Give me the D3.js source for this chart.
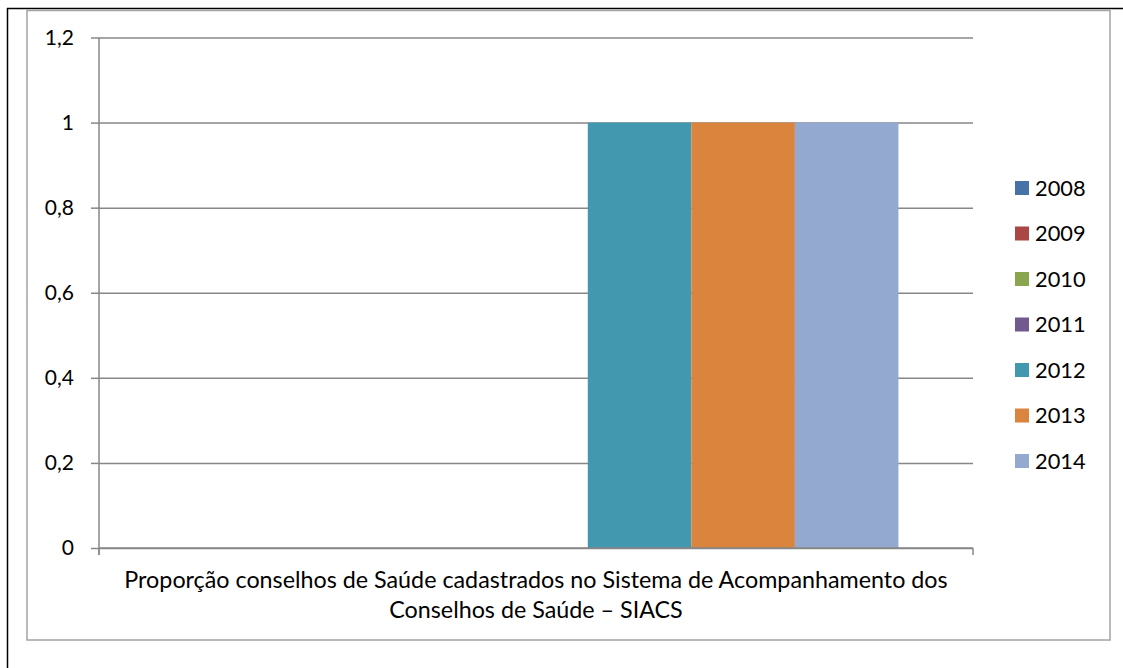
<!DOCTYPE html>
<html>
<head>
<meta charset="utf-8">
<script src="https://cdn.jsdelivr.net/npm/d3@7"></script>
<style>
  body { margin: 0; background: #fff; }
  svg { display: block; }
</style>
</head>
<body>
<div id="chart"></div>
<script>
// chart values
const categories = ['Proporção conselhos de Saúde cadastrados no Sistema de Acompanhamento dos|Conselhos de Saúde – SIACS']
const years = ['2008', '2009', '2010', '2011', '2012', '2013', '2014']
const values = [0, 0, 0, 0, 1, 1, 1]
const colors = ['#4572A7', '#AA4643', '#89A54E', '#71588F', '#4198AF', '#DB843D', '#93A9CF']
const yTicks = [0, 0.2, 0.4, 0.6, 0.8, 1, 1.2]

const width = 1123
const height = 668
const font = 'Lato, Calibri, "Open Sans", sans-serif'

const plot = {left: 99, right: 973, top: 37.5, bottom: 548}

const svg = d3.select('#chart').append('svg')
  .attr('width', width)
  .attr('height', height)

// outer page lines
svg.append('line')
  .attr('x1', 7).attr('y1', 8.5).attr('x2', width).attr('y2', 8.5)
  .attr('stroke', '#000').attr('stroke-width', 1.5)
svg.append('line')
  .attr('x1', 7.5).attr('y1', 8).attr('x2', 7.5).attr('y2', height)
  .attr('stroke', '#000').attr('stroke-width', 1.5)

// chart border
svg.append('rect')
  .attr('x', 27).attr('y', 10.5)
  .attr('width', 1110 - 27).attr('height', 640 - 10.5)
  .attr('fill', 'none')
  .attr('stroke', '#a3a3a3')
  .attr('stroke-width', 1.5)

const y = d3.scaleLinear()
  .domain([0, 1.2])
  .range([plot.bottom, plot.top])

const x0 = d3.scaleBand()
  .domain(categories)
  .range([plot.left, plot.right])

const x1 = d3.scaleBand()
  .domain(years)
  .range([0, x0.bandwidth()])
  .paddingInner(0)
  .paddingOuter(0.72)

// gridlines + y axis
const yAxis = svg.append('g')
  .attr('transform', `translate(${plot.left},0)`)
  .call(d3.axisLeft(y)
    .tickValues(yTicks)
    .tickSize(8)
    .tickPadding(17)
    .tickFormat(d => String(+d.toFixed(1)).replace('.', ',')))
yAxis.select('.domain').remove()
yAxis.selectAll('.tick line')
  .attr('stroke', '#878787')
  .attr('stroke-width', 1.5)
yAxis.selectAll('.tick').append('line')
  .attr('x1', 0).attr('x2', plot.right - plot.left)
  .attr('stroke', '#878787')
  .attr('stroke-width', 1.5)
yAxis.selectAll('.tick text')
  .attr('font-family', font)
  .attr('font-size', 21)
  .attr('fill', '#000')

// vertical axis line
svg.append('line')
  .attr('x1', plot.left).attr('x2', plot.left)
  .attr('y1', plot.top).attr('y2', plot.bottom + 7)
  .attr('stroke', '#878787').attr('stroke-width', 1.5)

// bars
const groups = svg.append('g').selectAll('g')
  .data(categories)
  .join('g')
  .attr('transform', d => `translate(${x0(d)},0)`)

groups.selectAll('rect')
  .data(years.map((yr, i) => ({year: yr, value: values[i], color: colors[i]})))
  .join('rect')
  .attr('x', d => x1(d.year))
  .attr('y', d => y(d.value))
  .attr('width', x1.bandwidth())
  .attr('height', d => y(0) - y(d.value))
  .attr('fill', d => d.color)

// x axis
const xAxis = svg.append('g')
  .attr('transform', `translate(0,${plot.bottom})`)
xAxis.append('line')
  .attr('x1', plot.left).attr('x2', plot.right)
  .attr('stroke', '#878787').attr('stroke-width', 1.5)
const edges = [plot.left, plot.right]
xAxis.selectAll('.edge')
  .data(edges)
  .join('line')
  .attr('class', 'edge')
  .attr('x1', d => d).attr('x2', d => d)
  .attr('y1', 0).attr('y2', 7)
  .attr('stroke', '#878787').attr('stroke-width', 1.5)

// category label (two lines)
categories.forEach(c => {
  const label = svg.append('text')
    .attr('font-family', font)
    .attr('font-size', 23.3)
    .attr('fill', '#000')
    .attr('text-anchor', 'middle')
  c.split('|').forEach((line, i) => {
    label.append('tspan')
      .attr('x', x0(c) + x0.bandwidth() / 2)
      .attr('y', 588 + i * 30)
      .text(line)
  })
})

// legend
const legend = svg.append('g')
  .attr('transform', 'translate(1015,188)')
const items = legend.selectAll('g')
  .data(years)
  .join('g')
  .attr('transform', (d, i) => `translate(0,${i * 45.5})`)
items.append('rect')
  .attr('x', 0).attr('y', -7)
  .attr('width', 14).attr('height', 14)
  .attr('fill', (d, i) => colors[i])
items.append('text')
  .attr('x', 20)
  .attr('dy', '0.35em')
  .attr('font-family', font)
  .attr('font-size', 21.8)
  .attr('fill', '#000')
  .text(d => d)
</script>
</body>
</html>
